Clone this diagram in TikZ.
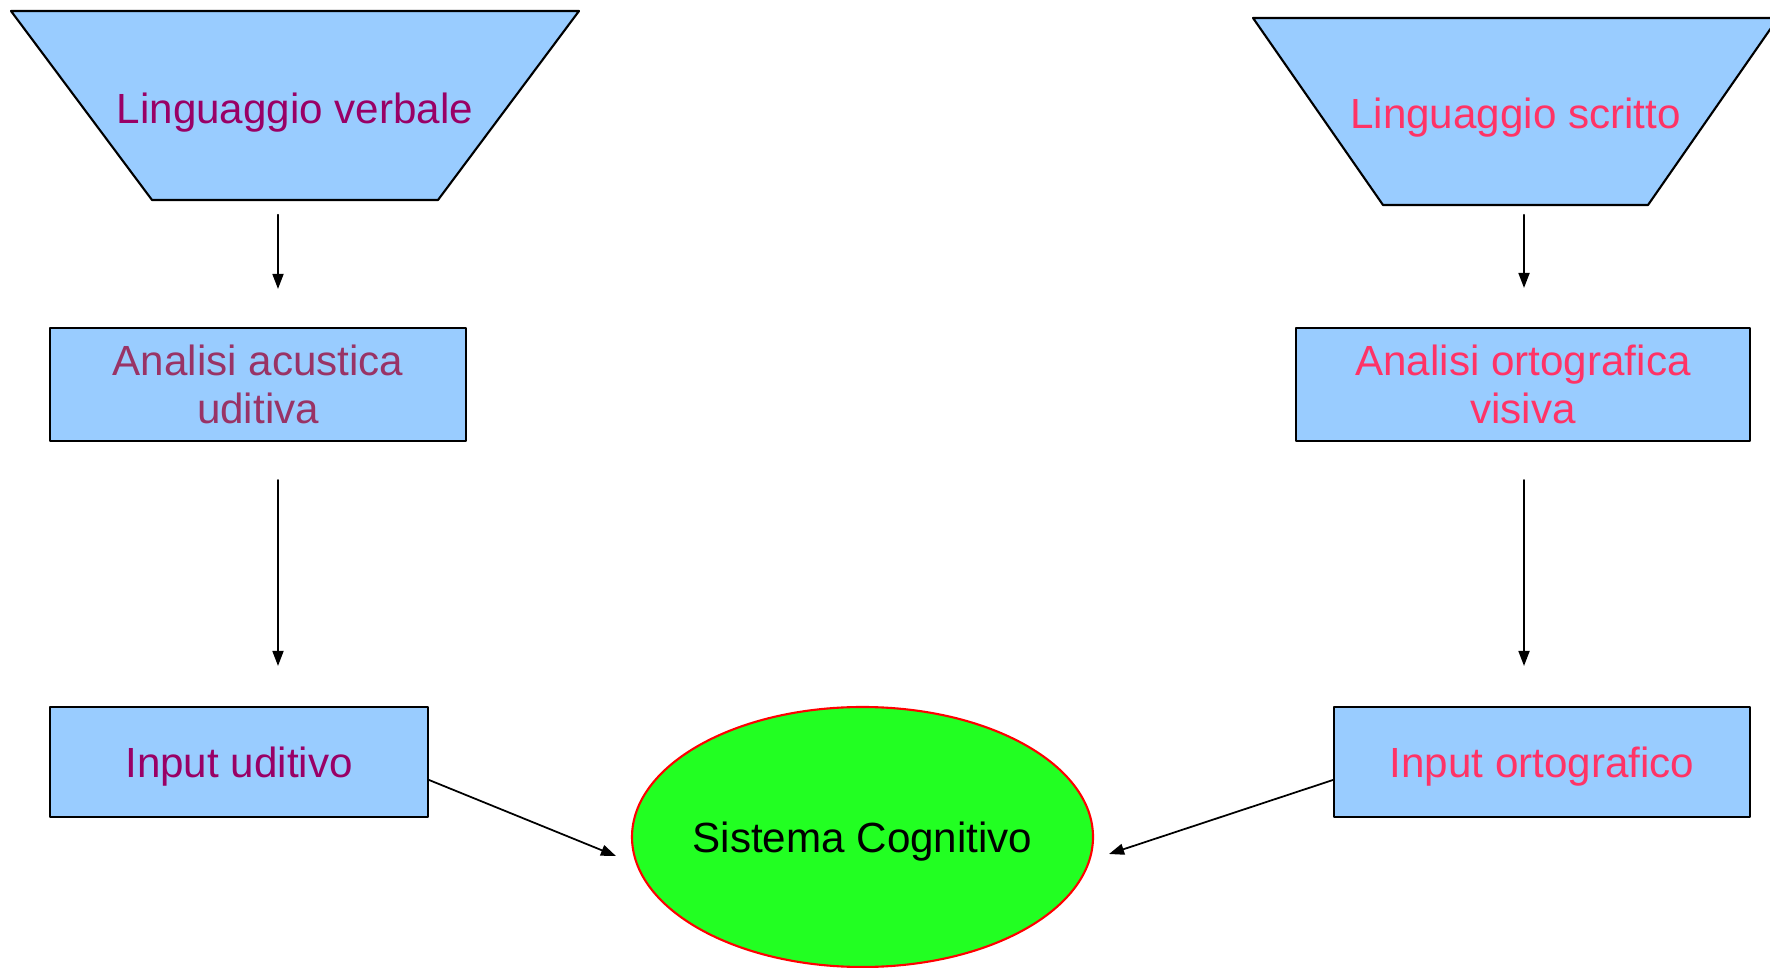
\documentclass[tikz,border=0pt]{standalone}
\usepackage{fontspec}
\setmainfont{Liberation Sans}
\usetikzlibrary{arrows.meta,shapes.geometric}
\definecolor{boxblu}{rgb}{0.6,0.8,1.}
\definecolor{viola}{rgb}{0.6,0.,0.4}
\definecolor{malva}{rgb}{0.6,0.2,0.4}
\definecolor{rosa}{rgb}{1.,0.2,0.4}
\definecolor{verde}{rgb}{0.133,1.,0.133}

\begin{document}
\begin{tikzpicture}[line cap=round,line join=round,>={Triangle[length=1.5mm,width=1.1mm]},x=1cm,y=1cm,
	testo/.style={inner sep=0pt,align=center,font=\fontsize{12}{13.6}\selectfont},
	blocco/.style={testo,draw=black,line width=0.6pt,fill=boxblu},
	riga/.style={text depth=0pt},
	imbuto/.style={draw=black,line width=0.6pt,fill=boxblu},
	freccia/.style={->,line width=0.5pt}]
			\useasboundingbox (0.,0.) rectangle (17.7,9.67);
			% imbuti in alto
			\draw[imbuto] (0.11,9.56) -- (5.79,9.56) -- (4.38,7.67) -- (1.52,7.67) -- cycle;
			\draw[imbuto] (12.53,9.49) -- (17.78,9.49) -- (16.48,7.62) -- (13.83,7.62) -- cycle;
			% ramo uditivo
			\node[testo,riga,text=viola,minimum width=2.86cm,minimum height=1.89cm] (verbale) at (2.95,8.585) {Linguaggio verbale};
			\node[blocco,text=malva,minimum width=4.16cm,minimum height=1.13cm] (acustica) at (2.58,5.825) {Analisi acustica\\uditiva};
			\node[blocco,riga,text=viola,minimum width=3.78cm,minimum height=1.1cm] (uditivo) at (2.39,2.05) {Input uditivo};
			% ramo visivo
			\node[testo,riga,text=rosa,minimum width=2.65cm,minimum height=1.87cm] (scritto) at (15.155,8.54) {Linguaggio scritto};
			\node[blocco,text=rosa,minimum width=4.54cm,minimum height=1.13cm] (ortografica) at (15.23,5.825) {Analisi ortografica\\visiva};
			\node[blocco,riga,text=rosa,minimum width=4.16cm,minimum height=1.1cm] (ortografico) at (15.42,2.05) {Input ortografico};
			% sistema cognitivo
			\node[ellipse,testo,riga,draw=red,line width=0.6pt,fill=verde,inner xsep=-0.1cm,minimum width=4.61cm,minimum height=2.6cm] (cognitivo) at (8.625,1.3) {Sistema Cognitivo};
			% frecce
			\draw[freccia] ([shift={(-0.17,-0.11)}]verbale.south) -- ([shift={(0.2,0.38)}]acustica.north);
			\draw[freccia] ([shift={(0.2,-0.38)}]acustica.south) -- ([shift={(0.39,0.4)}]uditivo.north);
			\draw[freccia] ([shift={(0.085,-0.075)}]scritto.south) -- ([shift={(0.01,0.39)}]ortografica.north);
			\draw[freccia] ([shift={(0.01,-0.38)}]ortografica.south) -- ([shift={(-0.18,0.4)}]ortografico.north);
			\draw[freccia] ([shift={(0.,-0.18)}]uditivo.east) -- ([shift={(-0.15,-0.19)}]cognitivo.west);
			\draw[freccia] ([shift={(0.,-0.18)}]ortografico.west) -- ([shift={(0.15,-0.17)}]cognitivo.east);
\end{tikzpicture}
\end{document}
